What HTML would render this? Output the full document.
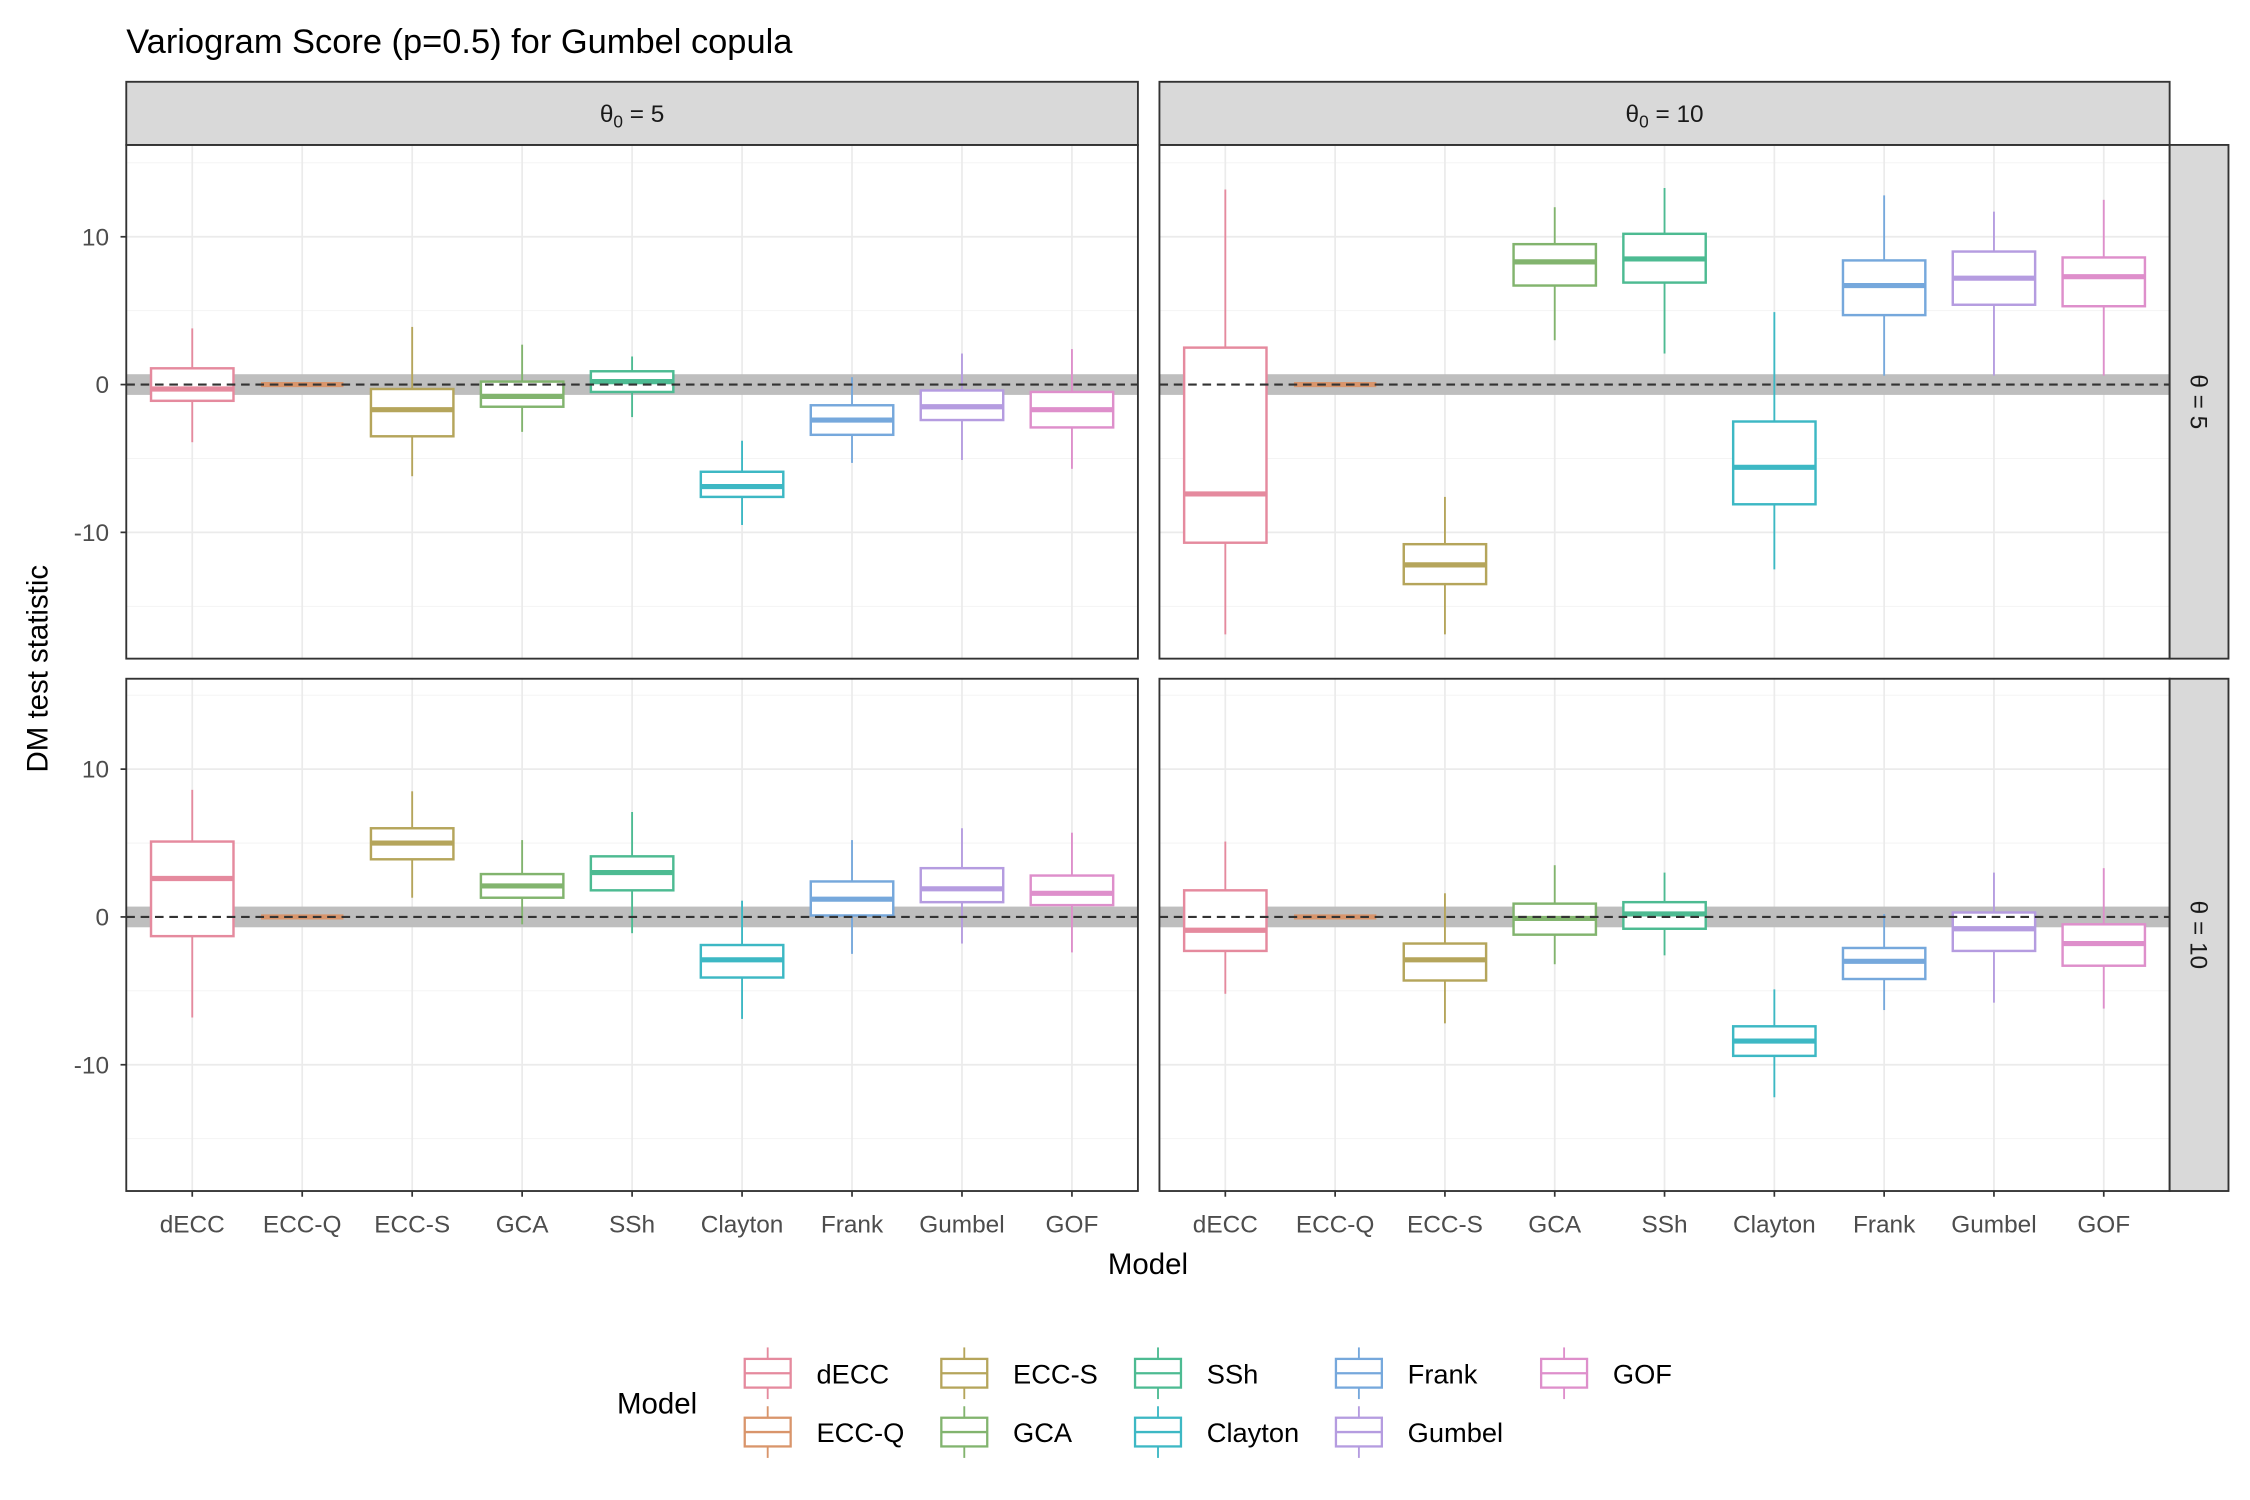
<!DOCTYPE html>
<html><head><meta charset="utf-8"><style>
html,body{margin:0;padding:0;background:#fff;}
svg{display:block;font-family:"Liberation Sans",sans-serif;}
</style></head><body>
<svg id="chart" width="2250" height="1500" viewBox="0 0 1568 1045.33" preserveAspectRatio="none" xmlns="http://www.w3.org/2000/svg">
<rect x="0" y="0" width="1568" height="1046" fill="#fff"/>
<text x="88" y="37" font-size="24" fill="#000">Variogram Score (p=0.5) for Gumbel copula</text>
<text transform="translate(33,466) rotate(-90)" text-anchor="middle" font-size="20.5" fill="#000">DM test statistic</text>
<text x="800" y="888" text-anchor="middle" font-size="20.5" fill="#000">Model</text>
<g id="panels"></g>
<g id="legend"></g>
</svg>
<script>
const categories = ["dECC","ECC-Q","ECC-S","GCA","SSh","Clayton","Frank","Gumbel","GOF"];
const colors = ["#E58A9E","#D9956B","#B5A55B","#82B46E","#4DBB92","#3DB8C4","#76A8DC","#B59CE0","#DE8FCB"];
const yTicks = [-10,0,10];
const yTickLabels = ["-10","0","10"];
// Panel 1: theta0=5, theta=5
const p1Min = [-3.9,0,-6.2,-3.2,-2.2,-9.5,-5.3,-5.1,-5.7];
const p1Q1  = [-1.1,0,-3.5,-1.5,-0.5,-7.6,-3.4,-2.4,-2.9];
const p1Med = [-0.3,0,-1.7,-0.8,0.2,-6.9,-2.4,-1.5,-1.7];
const p1Q3  = [1.1,0,-0.3,0.2,0.9,-5.9,-1.4,-0.4,-0.5];
const p1Max = [3.8,0,3.9,2.7,1.9,-3.8,0.5,2.1,2.4];
// Panel 2: theta0=10, theta=5
const p2Min = [-16.9,0,-16.9,3.0,2.1,-12.5,0.6,0.6,0.6];
const p2Q1  = [-10.7,0,-13.5,6.7,6.9,-8.1,4.7,5.4,5.3];
const p2Med = [-7.4,0,-12.2,8.3,8.5,-5.6,6.7,7.2,7.3];
const p2Q3  = [2.5,0,-10.8,9.5,10.2,-2.5,8.4,9.0,8.6];
const p2Max = [13.2,0,-7.6,12.0,13.3,4.9,12.8,11.7,12.5];
// Panel 3: theta0=5, theta=10
const p3Min = [-6.8,0,1.3,-0.5,-1.1,-6.9,-2.5,-1.8,-2.4];
const p3Q1  = [-1.3,0,3.9,1.3,1.8,-4.1,0.1,1.0,0.8];
const p3Med = [2.6,0,5.0,2.1,3.0,-2.9,1.2,1.9,1.6];
const p3Q3  = [5.1,0,6.0,2.9,4.1,-1.9,2.4,3.3,2.8];
const p3Max = [8.6,0,8.5,5.2,7.1,1.1,5.2,6.0,5.7];
// Panel 4: theta0=10, theta=10
const p4Min = [-5.2,0,-7.2,-3.2,-2.6,-12.2,-6.3,-5.8,-6.2];
const p4Q1  = [-2.3,0,-4.3,-1.2,-0.8,-9.4,-4.2,-2.3,-3.3];
const p4Med = [-0.9,0,-2.9,-0.1,0.2,-8.4,-3.0,-0.8,-1.8];
const p4Q3  = [1.8,0,-1.8,0.9,1.0,-7.4,-2.1,0.3,-0.5];
const p4Max = [5.1,0,1.6,3.5,3.0,-4.9,0.2,3.0,3.3];

const NS = "http://www.w3.org/2000/svg";
function mk(tag, attrs, parent){const e=document.createElementNS(NS,tag);for(const k in attrs)e.setAttribute(k,attrs[k]);parent.appendChild(e);return e;}
const root = document.getElementById("panels");
const panels = [
 {x0:88,x1:793,y0:101,y1:459,zero:268,d:[p1Min,p1Q1,p1Med,p1Q3,p1Max],name:"panel-theta0-5-theta-5",left:true,bottom:false},
 {x0:808,x1:1512,y0:101,y1:459,zero:268,d:[p2Min,p2Q1,p2Med,p2Q3,p2Max],name:"panel-theta0-10-theta-5",left:false,bottom:false},
 {x0:88,x1:793,y0:473,y1:830,zero:639,d:[p3Min,p3Q1,p3Med,p3Q3,p3Max],name:"panel-theta0-5-theta-10",left:true,bottom:true},
 {x0:808,x1:1512,y0:473,y1:830,zero:639,d:[p4Min,p4Q1,p4Med,p4Q3,p4Max],name:"panel-theta0-10-theta-10",left:false,bottom:true}
];
const unit = 10.3;
panels.forEach(p=>{
  const g = mk("g",{},root);
  
  
  const step = (p.x1-p.x0)/9.2;
  const xs = i => p.x0 + step*(0.6+i);
  const ys = v => p.zero - v*unit;
  [-15,-5,5,15].forEach(v=>{const l=mk("line",{x1:p.x0,x2:p.x1,y1:ys(v),y2:ys(v),stroke:"#f2f2f2","stroke-width":0.6},g);
    });
  yTicks.forEach(v=>{const l=mk("line",{x1:p.x0,x2:p.x1,y1:ys(v),y2:ys(v),stroke:"#ebebeb","stroke-width":1.2},g);
    });
  categories.forEach((c,i)=>{const l=mk("line",{x1:xs(i),x2:xs(i),y1:p.y0,y2:p.y1,stroke:"#ebebeb","stroke-width":1.2},g);
    });
  const band = mk("rect",{x:p.x0,y:ys(0.7),width:p.x1-p.x0,height:ys(-0.7)-ys(0.7),fill:"#bebebe"},g);
  
  const bw = step*0.75;
  categories.forEach((c,i)=>{
    const bg = mk("g",{},g);
    
    
    const col = colors[i], x=xs(i);
    const [mn,q1,md,q3,mx] = p.d.map(a=>a[i]);
    mk("line",{x1:x,x2:x,y1:ys(mx),y2:ys(q3),stroke:col,"stroke-width":1.3},bg);
    mk("line",{x1:x,x2:x,y1:ys(q1),y2:ys(mn),stroke:col,"stroke-width":1.3},bg);
    mk("rect",{x:x-bw/2,y:ys(q3),width:bw,height:Math.max(0,ys(q1)-ys(q3)),fill:"#fff",stroke:col,"stroke-width":1.7},bg);
    mk("line",{x1:x-bw/2,x2:x+bw/2,y1:ys(md),y2:ys(md),stroke:col,"stroke-width":3.6},bg);
  });
  const dl = mk("line",{x1:p.x0,x2:p.x1,y1:ys(0),y2:ys(0),stroke:"#333","stroke-width":1.5,"stroke-dasharray":"6 4"},g);
  
  const br = mk("rect",{x:p.x0,y:p.y0,width:p.x1-p.x0,height:p.y1-p.y0,fill:"none",stroke:"#333","stroke-width":1.3},g);
  
  if(p.left){
    yTicks.forEach((v,k)=>{
      mk("line",{x1:p.x0-4,x2:p.x0,y1:ys(v),y2:ys(v),stroke:"#333","stroke-width":1.2},g);
      const t=mk("text",{x:p.x0-12,y:ys(v)+6,"text-anchor":"end","font-size":17,fill:"#4d4d4d"},g);
      t.textContent=yTickLabels[k];
      
    });
  }
  if(p.bottom){
    categories.forEach((c,i)=>{
      mk("line",{x1:xs(i),x2:xs(i),y1:p.y1,y2:p.y1+4,stroke:"#333","stroke-width":1.2},g);
      const t=mk("text",{x:xs(i),y:p.y1+29,"text-anchor":"middle","font-size":17,fill:"#4d4d4d"},g);
      t.textContent=c;
      
    });
  }
});
function strip(x,y,w,h,label,sub,val,rot,name){
  const g=mk("g",{},root);
  
  
  mk("rect",{x:x,y:y,width:w,height:h,fill:"#d9d9d9",stroke:"#333","stroke-width":1.3},g);
  const t=mk("text",{"font-size":17,fill:"#1a1a1a","text-anchor":"middle",
    transform: rot?`translate(${x+w/2-6},${y+h/2}) rotate(90)`:`translate(${x+w/2},${y+h/2+6})`},g);
  t.innerHTML = sub ? `θ<tspan font-size="12" dy="4">0</tspan><tspan dy="-4"> = ${val}</tspan>` : `θ = ${val}`;
}
strip(88,57,705,44,"",true,"5",false,"strip-theta0-5");
strip(808,57,704,44,"",true,"10",false,"strip-theta0-10");
strip(1512,101,41,358,"",false,"5",true,"strip-theta-5");
strip(1512,473,41,357,"",false,"10",true,"strip-theta-10");
const lg=document.getElementById("legend");
const lt=mk("text",{x:430,y:985,"font-size":20.5,fill:"#000"},lg);
lt.textContent="Model";

const colX=[519,656,791,931,1074], rowY=[957,998];
categories.forEach((c,i)=>{
  const x=colX[Math.floor(i/2)], y=rowY[i%2], col=colors[i];
  const g=mk("g",{},lg);
  
  
  mk("line",{x1:x+16,x2:x+16,y1:y-18,y2:y+18,stroke:col,"stroke-width":1.3},g);
  mk("rect",{x:x,y:y-10,width:32,height:20,fill:"#fff",stroke:col,"stroke-width":1.6},g);
  mk("line",{x1:x,x2:x+32,y1:y,y2:y,stroke:col,"stroke-width":1.6},g);
  const t=mk("text",{x:x+50,y:y+7,"font-size":19,fill:"#000"},g);
  t.textContent=c;
});
</script>
</body></html>
